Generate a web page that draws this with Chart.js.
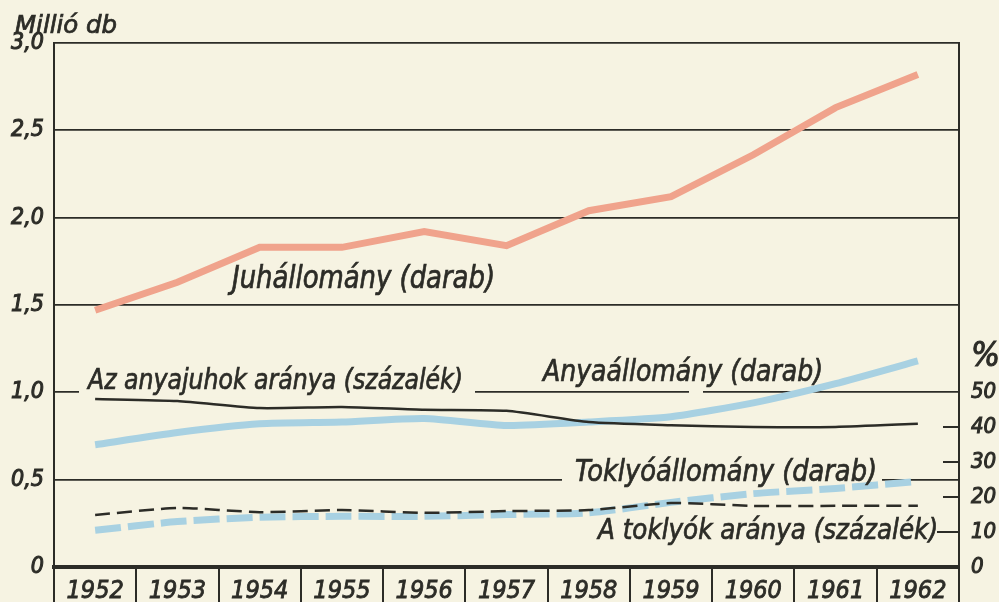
<!DOCTYPE html>
<html>
<head>
<meta charset="utf-8">
<script src="https://cdn.jsdelivr.net/npm/chart.js@4.4.1/dist/chart.umd.min.js"></script>
<style>
html, body { margin: 0; padding: 0; background: #f6f3e2; }
</style>
</head>
<body>
<canvas id="myChart" width="999" height="602"></canvas>
<script>
// years on the x axis
const years = ['1952', '1953', '1954', '1955', '1956', '1957', '1958', '1959', '1960', '1961', '1962']

// millió db (left axis)
const juhAllomany = [1.47, 1.63, 1.83, 1.83, 1.92, 1.84, 2.04, 2.12, 2.36, 2.63, 2.82]
const anyaAllomany = [0.70, 0.77, 0.82, 0.83, 0.85, 0.81, 0.83, 0.86, 0.94, 1.05, 1.18]
const toklyoAllomany = [0.21, 0.26, 0.285, 0.29, 0.29, 0.30, 0.31, 0.37, 0.42, 0.45, 0.49]

// százalék (right axis)
const anyajuhArany = [48.1, 47.5, 45.5, 45.8, 45.0, 44.7, 41.5, 40.6, 40.1, 40.1, 41.0]
const toklyoArany = [14.9, 16.9, 15.7, 16.3, 15.5, 16.0, 16.3, 18.3, 17.5, 17.5, 17.5]

const leftTicks = [0, 0.5, 1, 1.5, 2, 2.5, 3]
const rightTicks = [0, 10, 20, 30, 40, 50]
const rightInnerTicks = [10, 20, 30, 40]

const paper = '#f6f3e2'
const ink = '#2c2c27'
const salmon = '#f0a38c'
const blue = '#a8d1e2'
const handFont = '"DejaVu Sans Condensed", "DejaVu Sans", sans-serif'

function fitText(ctx, text, x, base, w, size) {
  ctx.font = 'italic ' + size + 'px ' + handFont
  const m = ctx.measureText(text).width
  ctx.save()
  ctx.translate(x, base)
  ctx.scale(w / m, 1)
  ctx.fillText(text, 0, 0)
  ctx.strokeText(text, 0, 0)
  ctx.restore()
}

const overlay = {
  id: 'overlay',
  beforeDatasetsDraw(chart) {
    const ctx = chart.ctx
    const y = chart.scales.y
    ctx.save()
    ctx.fillStyle = paper
    // breaks in the grid where the captions sit
    ctx.fillRect(79, y.getPixelForValue(1) - 5, 396, 10)
    ctx.fillRect(689, y.getPixelForValue(1) - 5, 14, 10)
    ctx.fillRect(562, y.getPixelForValue(0.5) - 5, 320, 10)
    ctx.restore()
  },
  afterDraw(chart) {
    const ctx = chart.ctx
    const area = chart.chartArea
    const y2 = chart.scales.y2
    ctx.save()
    ctx.strokeStyle = ink
    ctx.lineWidth = 2
    rightInnerTicks.forEach(v => {
      const py = Math.round(y2.getPixelForValue(v))
      ctx.beginPath()
      ctx.moveTo(area.right - (v === 10 ? 22 : 16), py)
      ctx.lineTo(area.right, py)
      ctx.stroke()
    })

    ctx.fillStyle = ink
    ctx.lineWidth = 0.7
    ctx.textBaseline = 'alphabetic'
    fitText(ctx, 'Millió db', 15, 33, 102, 25)
    fitText(ctx, 'Juhállomány (darab)', 232, 288, 263, 32)
    fitText(ctx, 'Az anyajuhok aránya (százalék)', 88, 389, 375, 28)
    fitText(ctx, 'Anyaállomány (darab)', 543, 381, 280, 31)
    fitText(ctx, 'Toklyóállomány (darab)', 575, 481, 302, 30)
    fitText(ctx, 'A toklyók aránya (százalék)', 598, 539, 340, 28)
    ctx.restore()
  }
}

Chart.defaults.font.family = handFont
Chart.defaults.color = ink

const ctx = document.getElementById('myChart')

new Chart(ctx, {
  type: 'line',
  data: {
    labels: years,
    datasets: [
      {
        label: 'Az anyajuhok aránya (százalék)',
        data: anyajuhArany,
        yAxisID: 'y2',
        borderColor: ink,
        borderWidth: 2.5,
        tension: 0.2
      },
      {
        label: 'A toklyók aránya (százalék)',
        data: toklyoArany,
        yAxisID: 'y2',
        borderColor: ink,
        borderWidth: 2.5,
        borderDash: [15, 7],
        tension: 0.2
      },
      {
        label: 'Juhállomány (darab)',
        data: juhAllomany,
        yAxisID: 'y',
        borderColor: salmon,
        borderWidth: 7,
        tension: 0
      },
      {
        label: 'Anyaállomány (darab)',
        data: anyaAllomany,
        yAxisID: 'y',
        borderColor: blue,
        borderWidth: 7,
        tension: 0.2
      },
      {
        label: 'Toklyóállomány (darab)',
        data: toklyoAllomany,
        yAxisID: 'y',
        borderColor: blue,
        borderWidth: 7,
        borderDash: [26, 7],
        tension: 0.2
      }
    ]
  },
  options: {
    responsive: false,
    animation: false,
    devicePixelRatio: 1,
    layout: { padding: { top: 43, left: 0, right: 0, bottom: 0 } },
    elements: { point: { radius: 0 }, line: { borderCapStyle: 'butt' } },
    plugins: {
      legend: { display: false },
      tooltip: { enabled: false }
    },
    scales: {
      x: {
        offset: true,
        afterFit: s => { s.height = 35 },
        grid: {
          offset: true,
          drawOnChartArea: false,
          drawTicks: true,
          tickLength: 40,
          color: ink,
          lineWidth: 2
        },
        border: { display: true, color: ink, width: 4 },
        ticks: {
          padding: -31,
          font: { size: 25, style: 'italic' },
          color: ink,
          textStrokeColor: ink,
          textStrokeWidth: 0.8,
          maxRotation: 0
        }
      },
      y: {
        position: 'left',
        min: 0,
        max: 3,
        afterFit: s => { s.width = 54 },
        afterBuildTicks: s => { s.ticks = leftTicks.map(v => ({ value: v })) },
        grid: { color: ink, lineWidth: 1.8, drawTicks: false },
        border: { display: true, color: ink, width: 2 },
        ticks: {
          padding: 10,
          font: { size: 23, style: 'italic' },
          color: ink,
          textStrokeColor: ink,
          textStrokeWidth: 1,
          callback: v => v === 0 ? '0' : v.toFixed(1).replace('.', ',')
        }
      },
      y2: {
        position: 'right',
        min: 0,
        max: 150,
        afterFit: s => { s.width = 40 },
        afterBuildTicks: s => { s.ticks = rightTicks.concat([60]).map(v => ({ value: v })) },
        grid: { display: false, drawOnChartArea: false },
        border: { display: true, color: ink, width: 2 },
        ticks: {
          padding: 4,
          color: ink,
          textStrokeColor: ink,
          textStrokeWidth: 1,
          font: c => c.tick && c.tick.value === 60
            ? { size: 34, style: 'italic' }
            : { size: 22, style: 'italic' },
          callback: v => v === 60 ? '%' : String(v)
        }
      }
    }
  },
  plugins: [overlay]
})
</script>
</body>
</html>
